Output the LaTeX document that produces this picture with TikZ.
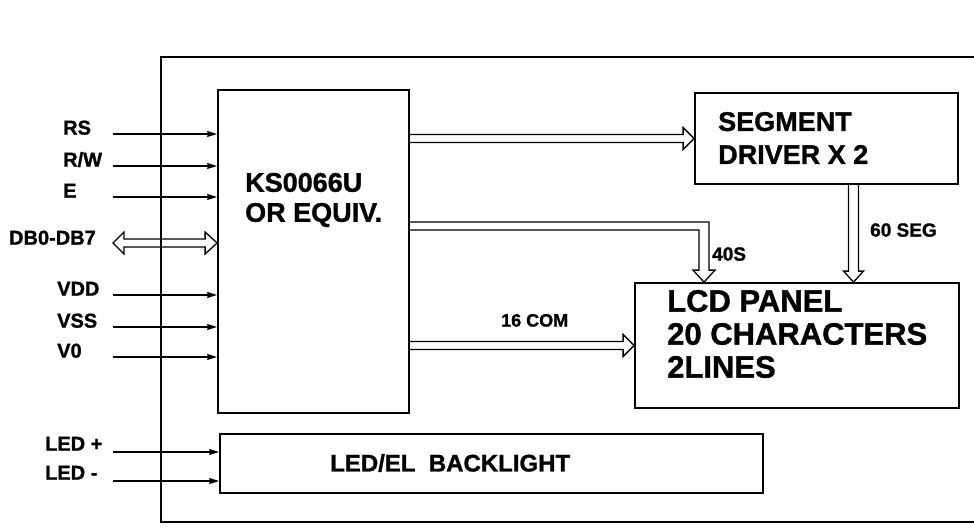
\documentclass[tikz,border=0pt]{standalone}
\usepackage{fontspec}
\setmainfont{Liberation Sans}[BoldFeatures={FakeBold=1.2}]
\usetikzlibrary{arrows.meta,calc}

% fat bus arrows, built from two points
\newcommand{\busright}[2]{%
  \draw[bus] let \p1=(#1), \p2=(#2) in
    (\x1,\y1+4pt) -- (\x2-11pt,\y1+4pt) -- (\x2-11pt,\y1+11pt) -- (\x2,\y1)
    -- (\x2-11pt,\y1-11pt) -- (\x2-11pt,\y1-4pt) -- (\x1,\y1-4pt);}
\newcommand{\busdown}[2]{%
  \draw[bus] let \p1=(#1), \p2=(#2) in
    (\x1-5pt,\y1) -- (\x1-5pt,\y2+11pt) -- (\x1-10pt,\y2+11pt) -- (\x1,\y2)
    -- (\x1+10pt,\y2+11pt) -- (\x1+5pt,\y2+11pt) -- (\x1+5pt,\y1);}
\newcommand{\buscorner}[2]{%
  \draw[bus] let \p1=(#1), \p2=(#2) in
    (\x1,\y1+4pt) -- (\x2+5pt,\y1+4pt) -- (\x2+5pt,\y2+12pt) -- (\x2+11pt,\y2+12pt)
    -- (\x2,\y2) -- (\x2-11pt,\y2+12pt) -- (\x2-5pt,\y2+12pt) -- (\x2-5pt,\y1-4pt)
    -- (\x1,\y1-4pt);}
\newcommand{\busboth}[2]{%
  \draw[bus] let \p1=(#1), \p2=(#2) in
    (\x1,\y1) -- (\x1+11pt,\y1+11pt) -- (\x1+11pt,\y1+4pt) -- (\x2-12pt,\y1+4pt)
    -- (\x2-12pt,\y1+11pt) -- (\x2,\y1) -- (\x2-12pt,\y1-11pt) -- (\x2-12pt,\y1-4pt)
    -- (\x1+11pt,\y1-4pt) -- (\x1+11pt,\y1-11pt) -- cycle;}

\begin{document}
\begin{tikzpicture}[
  x=1pt,
  y=-1pt,
  font=\bfseries,
  block/.style={draw,line width=1.8pt,inner sep=0pt},
  sig/.style={line width=1.3pt,-{Stealth[length=10pt,width=6pt,inset=1pt]}},
  bus/.style={line width=1.3pt,line join=miter},
  pinlabel/.style={anchor=west,inner sep=0pt,text height=.72em,text depth=0pt,
    font=\bfseries\fontsize{20}{20}\selectfont},
  buslabel/.style={anchor=west,inner sep=0pt,text height=.72em,text depth=0pt,
    font=\bfseries\fontsize{19}{19}\selectfont},
  blocktext/.style={anchor=west,inner sep=0pt,align=left}
]
\useasboundingbox (0,0) rectangle (974,527);

% module outline, open at the right edge
\draw[line width=1.8pt] (980,57) -- (161,57) -- (161,522) -- (980,522);

% blocks
\node[block,minimum width=191pt,minimum height=323pt] (ctl) at (313.5,251.5) {};
\node[block,minimum width=263pt,minimum height=91pt] (seg) at (826.5,138.5) {};
\node[block,minimum width=324pt,minimum height=125pt] (lcd) at (797,345.5) {};
\node[block,minimum width=543pt,minimum height=59pt] (bl) at (491.5,463.5) {};

\node[blocktext,font=\bfseries\fontsize{27}{30}\selectfont] (ctltxt) at (245,200)
  {KS0066U\\OR EQUIV.};
\node[blocktext,font=\bfseries\fontsize{27}{33}\selectfont] (segtxt) at (718,138)
  {SEGMENT\\DRIVER X 2};
\node[blocktext,font=\bfseries\fontsize{31}{33}\selectfont] (lcdtxt) at (667,334)
  {LCD PANEL\\20 CHARACTERS\\2LINES};
\node[blocktext,font=\bfseries\fontsize{24}{24}\selectfont] (bltxt) at (330,463)
  {LED/EL\ \ BACKLIGHT};

% control inputs
\foreach \nm/\yy/\xx/\txt in {rs/134/63/RS, rw/166/63/{R/W}, en/197/63/E,
    vdd/295/57/VDD, vss/327/57/VSS, vzero/357/57/V0}{
  \coordinate (\nm) at (113,\yy);
  \node[pinlabel] (\nm-lbl) at (\xx,\yy-3) {\txt};
  \draw[sig] (\nm) -- (\nm -| ctl.west);
}
\foreach \nm/\yy/\txt in {ledp/452/{LED +}, ledn/481/{LED -}}{
  \coordinate (\nm) at (113,\yy);
  \node[pinlabel] (\nm-lbl) at (45,\yy-5) {\txt};
  \draw[sig] (\nm) -- (\nm -| bl.west);
}

% data bus
\coordinate (db) at (113,243);
\node[pinlabel,anchor=east] (db-lbl) at (96,241) {DB0-DB7};
\busboth{db}{db -| ctl.west}

% internal buses
\busright{ctl.east |- seg.west}{seg.west}
\busright{ctl.east |- lcd.west}{lcd.west}
\coordinate (c40) at (704,226);
\buscorner{ctl.east |- c40}{c40 |- lcd.north}
\coordinate (c60) at (853.5,200);
\busdown{c60 |- seg.south}{c60 |- lcd.north}

\node[buslabel,font=\bfseries\fontsize{18}{18}\selectfont] (com-lbl) at (501,323) {16 COM};
\node[buslabel] (s40-lbl) at (712,257) {40S};
\node[buslabel] (s60-lbl) at (870,233) {60 SEG};
\end{tikzpicture}
\end{document}
